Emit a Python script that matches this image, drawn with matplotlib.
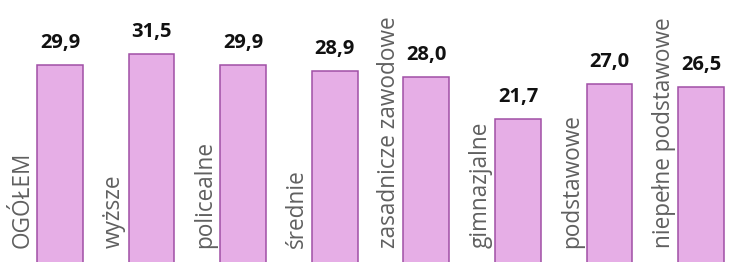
import matplotlib
matplotlib.use("Agg")
import matplotlib.pyplot as plt

categories = ["OGÓŁEM", "wyższe", "policealne", "średnie", "zasadnicze zawodowe",
              "gimnazjalne", "podstawowe", "niepełne podstawowe"]
values = [29.9, 31.5, 29.9, 28.9, 28.0, 21.7, 27.0, 26.5]
value_labels = ["29,9", "31,5", "29,9", "28,9", "28,0", "21,7", "27,0", "26,5"]

fig = plt.figure(figsize=(7.39, 2.62), dpi=100)
ax = fig.add_axes([0, 0, 1, 1])
x = list(range(len(categories)))
width = 0.5
ax.bar(x, values, width=width, color="#E6AEE6", edgecolor="#A050A6", linewidth=1.1, zorder=2)

for i, (v, lab, cat) in enumerate(zip(values, value_labels, categories)):
    ax.text(i, v + 2.55, lab, ha="center", va="baseline", fontsize=14.5,
            fontweight="bold", family="Open Sans", color="#111111")
    ax.text(i - width / 2 - 0.03, 2.3, cat, rotation=90, ha="right", va="bottom",
            fontsize=16.3, family="Open Sans", color="#606060")

ax.set_xlim(-0.655, 7.413)
ax.set_ylim(0.15, 39.65)
ax.axis("off")
fig.savefig("out.png", dpi=100)
